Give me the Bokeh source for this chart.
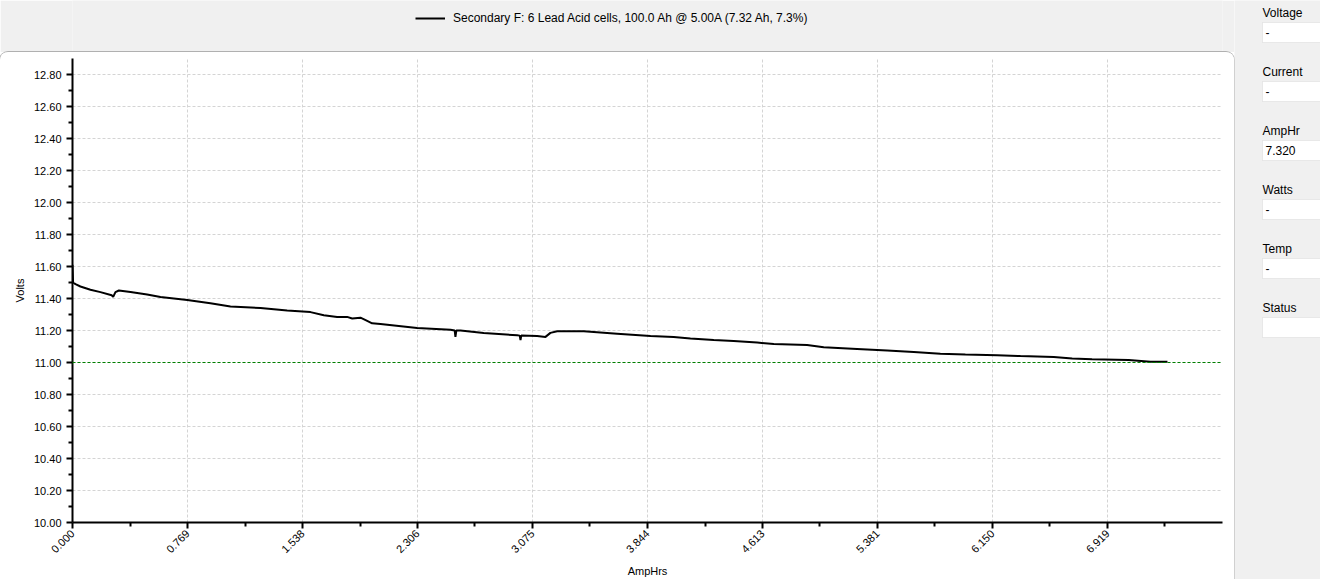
import math
from bokeh.plotting import figure
from bokeh.layouts import row, column
from bokeh.models import (FixedTicker, BoxAnnotation, Label, Legend, LegendItem, Span,
                          Range1d, PrintfTickFormatter, ColumnDataSource, LinearAxis)
from bokeh.embed import file_html
from bokeh.resources import INLINE

# ---------------- data ----------------
amp_hours = [0.000, 0.004, 0.020, 0.053, 0.120, 0.187, 0.262, 0.272, 0.287, 0.310,
             0.388, 0.499, 0.588, 0.767, 0.922, 1.056, 1.257, 1.435, 1.591, 1.680,
             1.769, 1.836, 1.870, 1.925, 1.970, 2.003, 2.059, 2.304, 2.527, 2.555,
             2.560, 2.566, 2.594, 2.749, 2.973, 2.990, 2.995, 3.000, 3.106, 3.162,
             3.195, 3.240, 3.418, 3.641, 3.864, 4.019, 4.131, 4.287, 4.420, 4.577,
             4.688, 4.911, 5.022, 5.245, 5.446, 5.624, 5.802, 5.969, 6.181, 6.337,
             6.560, 6.683, 6.816, 7.061, 7.206, 7.320]
volts = [11.61, 11.50, 11.49, 11.475, 11.455, 11.44, 11.42, 11.41, 11.44, 11.45,
         11.44, 11.425, 11.41, 11.39, 11.37, 11.35, 11.34, 11.325, 11.315, 11.295,
         11.285, 11.285, 11.275, 11.28, 11.26, 11.245, 11.24, 11.215, 11.205, 11.20,
         11.16, 11.20, 11.20, 11.185, 11.17, 11.168, 11.14, 11.168, 11.165, 11.16,
         11.185, 11.195, 11.195, 11.18, 11.165, 11.16, 11.15, 11.14, 11.135, 11.125,
         11.115, 11.11, 11.095, 11.085, 11.075, 11.065, 11.055, 11.05, 11.045, 11.04,
         11.035, 11.025, 11.02, 11.015, 11.005, 11.005]

x_ticks = [0.000, 0.769, 1.538, 2.306, 3.075, 3.844, 4.613, 5.381, 6.150, 6.919]
y_ticks = [10.0, 10.2, 10.4, 10.6, 10.8, 11.0, 11.2, 11.4, 11.6, 11.8, 12.0, 12.2, 12.4, 12.6, 12.8]
x_max = 7.688
y_min, y_max = 10.0, 12.9
cutoff_volts = 11.00

legend_label = "Secondary F: 6 Lead Acid cells, 100.0 Ah @ 5.00A (7.32 Ah, 7.3%)"
panel_labels = ["Voltage", "Current", "AmpHr", "Watts", "Temp", "Status"]
panel_values = ["-", "-", "7.320", "-", "-", ""]

# ---------------- layout constants ----------------
TOTAL_W, TOTAL_H = 1320, 579
MAIN_W, TOP_H = 1234, 52
MAIN_H = TOTAL_H - TOP_H
SIDE_W = TOTAL_W - MAIN_W
FL, FT, FR, FB = 72, 6, 1222, 470   # frame edges inside the main figure
FONT = "Liberation Sans"
GREY = "#F0F0F0"
GREEN = "#008000"

src = ColumnDataSource(data=dict(ah=amp_hours, v=volts))

# ---------------- main chart ----------------
p = figure(width=MAIN_W, height=MAIN_H, x_range=Range1d(0, x_max), y_range=Range1d(y_min, y_max),
           output_backend="svg", toolbar_location=None,
           min_border_left=FL, min_border_right=MAIN_W - FR, min_border_top=FT,
           min_border_bottom=MAIN_H - FB,
           border_fill_color="white", background_fill_color="white", outline_line_color=None,
           styles={"border-radius": "8px 8px 0 0", "overflow": "hidden",
                   "box-shadow": "0 0 0 1px #B0B0B0"})

x_minor = [(a + b) / 2 for a, b in zip(x_ticks, x_ticks[1:] + [x_max])]
y_minor = [(a + b) / 2 for a, b in zip(y_ticks, y_ticks[1:])]
xticker = FixedTicker(ticks=x_ticks, minor_ticks=x_minor)
yticker = FixedTicker(ticks=y_ticks, minor_ticks=y_minor)
p.xaxis.ticker = xticker
p.yaxis.ticker = yticker
p.xgrid.ticker = xticker
p.ygrid.ticker = yticker
p.xaxis.formatter = PrintfTickFormatter(format="%.3f")
p.yaxis.formatter = PrintfTickFormatter(format="%.2f")
p.xaxis.major_label_orientation = math.pi / 4
p.xaxis.axis_label = "AmpHrs"
p.yaxis.axis_label = "Volts"
for ax in (p.xaxis, p.yaxis):
    ax.axis_line_width = 2
    ax.axis_line_color = "black"
    ax.major_tick_line_width = 2
    ax.minor_tick_line_width = 2
    ax.major_tick_line_color = "black"
    ax.minor_tick_line_color = "black"
    ax.major_tick_in = 0
    ax.minor_tick_in = 0
    ax.major_tick_out = 6
    ax.minor_tick_out = 4
    ax.major_label_text_font = FONT
    ax.major_label_text_font_size = "11px"
    ax.major_label_text_color = "black"
    ax.axis_label_text_font = FONT
    ax.axis_label_text_font_size = "11px"
    ax.axis_label_text_font_style = "normal"
    ax.axis_label_text_color = "black"
p.xaxis.major_label_standoff = 3
p.xaxis.axis_label_standoff = 5
p.yaxis.major_label_standoff = 5
p.yaxis.axis_label_standoff = 5
p.grid.grid_line_color = "#D4D4D4"
p.grid.grid_line_dash = "3 2"
p.grid.grid_line_width = 1

# cutoff line, with its green marker drawn as a tick on the y axis line
p.add_layout(Span(location=cutoff_volts, dimension="width", line_color=GREEN,
                  line_dash="3 2", line_width=1))
marker_axis = LinearAxis(ticker=FixedTicker(ticks=[cutoff_volts], minor_ticks=[]),
                         formatter=PrintfTickFormatter(format=""),
                         fixed_location=0, axis_line_color=None,
                         major_tick_line_color=GREEN, major_tick_line_width=5,
                         major_tick_in=0, major_tick_out=8,
                         minor_tick_line_color=None, major_label_standoff=0)
p.add_layout(marker_axis, "left")

line_r = p.line("ah", "v", source=src, line_color="black", line_width=2)

# ---------------- top strip with the legend ----------------
# (same series, drawn off-range here, so the legend can show its line sample)
top = figure(width=MAIN_W, height=TOP_H, x_range=Range1d(0, x_max), y_range=Range1d(y_max + 10, y_max + 11),
             output_backend="svg", toolbar_location=None, min_border=0,
             border_fill_color=GREY, background_fill_color=GREY, outline_line_color=None)
top.axis.visible = False
top.grid.visible = False
sample = top.line("ah", "v", source=src, line_color="black", line_width=2)
legend = Legend(items=[LegendItem(label=legend_label, renderers=[sample])],
                location=(415 - FL, TOP_H - 28), orientation="horizontal",
                glyph_width=30, glyph_height=20, label_height=20, label_standoff=8,
                padding=0, margin=0, spacing=0, border_line_alpha=0, background_fill_alpha=0,
                label_text_font=FONT, label_text_font_size="12px", label_text_color="black")
top.add_layout(legend)

# ---------------- right-hand status panel ----------------
side = figure(width=SIDE_W, height=TOTAL_H, x_range=Range1d(0, 1), y_range=Range1d(0, 1),
              output_backend="svg", toolbar_location=None, min_border=0,
              border_fill_color=GREY, background_fill_color=GREY, outline_line_color=None)
side.axis.visible = False
side.grid.visible = False
box_left = 1262 - MAIN_W
for i, (lab, val) in enumerate(zip(panel_labels, panel_values)):
    box_top = 22 + 59 * i
    side.add_layout(Label(x=box_left, y=TOTAL_H - (box_top - 10), x_units="screen", y_units="screen",
                          text=lab, text_font=FONT, text_font_size="12px", text_color="black",
                          text_baseline="middle", text_align="left"))
    side.add_layout(BoxAnnotation(left=box_left, right=SIDE_W + 2,
                                  top=TOTAL_H - box_top, bottom=TOTAL_H - (box_top + 20),
                                  left_units="screen", right_units="screen",
                                  top_units="screen", bottom_units="screen",
                                  fill_color="white", fill_alpha=1.0, line_color="#C4C4C4",
                                  line_width=1))
    if val:
        side.add_layout(Label(x=box_left + 3, y=TOTAL_H - (box_top + 10), x_units="screen",
                              y_units="screen", text=val, text_font=FONT, text_font_size="12px",
                              text_color="black", text_baseline="middle", text_align="left"))

layout = row(column(top, p, spacing=0), side, spacing=0)
open("out.html", "w").write(file_html(layout, INLINE))
